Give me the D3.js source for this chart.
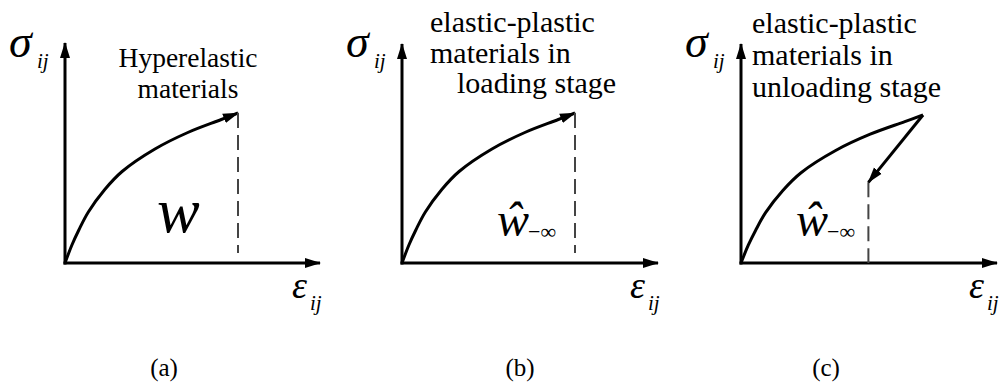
<!DOCTYPE html>
<html>
<head>
<meta charset="utf-8">
<script src="https://cdn.jsdelivr.net/npm/d3@7"></script>
</head>
<body style="margin:0">
<svg id="chart" width="1007" height="390"></svg>
<script>
// curve (normalised strain / stress)
var strain = [0, 0.04, 0.08, 0.135, 0.23, 0.33, 0.52, 0.71, 0.9, 1];
var stress = [0, 0.12, 0.22, 0.34, 0.49, 0.61, 0.76, 0.87, 0.955, 1];
// unloading branch of panel (c)
var unloadStrain = [1, 0.70];
var unloadStress = [1, 0.545];
var captions = ['(a)', '(b)', '(c)'];
var notes = [
  ['Hyperelastic', 'materials'],
  ['elastic-plastic', 'materials in', 'loading stage'],
  ['elastic-plastic', 'materials in', 'unloading stage']
];

var svg = d3.select('#chart');

// panel layout
var panels = [
  {ox: 65, oy: 263, ex: 238, ey: 113, xEnd: 320, yTop: 43, cap: 164,
   lines: [[188, 67, 'middle'], [188, 98, 'middle']], fs: 27.5, wx: 157},
  {ox: 402, oy: 263, ex: 575, ey: 113, xEnd: 658, yTop: 44, cap: 520,
   lines: [[430, 32, 'start'], [430, 63, 'start'], [457, 93, 'start']], fs: 30, wx: 497},
  {ox: 741, oy: 263, ex: 923, ey: 115, xEnd: 997, yTop: 44, cap: 826,
   lines: [[752, 33, 'start'], [752, 65, 'start'], [752, 97, 'start']], fs: 30, wx: 796}
];

// all texts, placed at the root
var labels = [];
panels.forEach(function (p, i) {
  labels.push({x: p.ox - 56, y: 57, t: 'σ', size: 46, it: true});
  labels.push({x: p.ox - 28, y: 68, t: 'ij', size: 21, it: true});
  labels.push({x: p.xEnd - 28, y: 298, t: 'ε', size: 38, it: true});
  labels.push({x: p.xEnd - 10, y: 310, t: 'ij', size: 21, it: true});
  if (i == 0) {
    labels.push({x: p.wx, y: 232, t: 'w', size: 64, it: true});
  } else {
    labels.push({x: p.wx, y: 236, t: 'ŵ', size: 48, it: true});
    labels.push({x: p.wx + 31, y: 239, t: '−∞', size: 22, it: false});
  }
  notes[i].forEach(function (t, k) {
    labels.push({x: p.lines[k][0], y: p.lines[k][1], t: t, size: p.fs, it: false, anchor: p.lines[k][2]});
  });
  labels.push({x: p.cap, y: 376, t: captions[i], size: 25, it: false, anchor: 'middle'});
});

svg.append('defs').append('marker')
  .attr('id', 'head')
  .attr('markerUnits', 'userSpaceOnUse')
  .attr('viewBox', '0 -6 16 12')
  .attr('markerWidth', 16).attr('markerHeight', 12)
  .attr('refX', 15).attr('refY', 0)
  .attr('orient', 'auto')
  .append('path').attr('d', 'M0,-5L16,0L0,5Z').attr('fill', '#000');

svg.selectAll('text').data(labels).enter().append('text')
  .attr('x', function (d) { return d.x; })
  .attr('y', function (d) { return d.y; })
  .attr('text-anchor', function (d) { return d.anchor || 'start'; })
  .style('font-family', function (d) { return 'Liberation Serif'; })
  .style('font-style', function (d) { return d.it ? 'italic' : 'normal'; })
  .style('font-size', function (d) { return d.size + 'px'; })
  .text(function (d) { return d.t; });

panels.forEach(function (p, i) {
  var x = d3.scaleLinear().domain([0, 1]).range([p.ox, p.ex]);
  var y = d3.scaleLinear().domain([0, 1]).range([p.oy, p.ey]);
  var pts = strain.map(function (s, k) { return [s, stress[k]]; });

  // axes
  svg.append('line')
    .attr('x1', p.ox).attr('y1', p.oy + 1.5).attr('x2', p.ox).attr('y2', p.yTop)
    .attr('stroke', '#000').attr('stroke-width', 3).attr('marker-end', 'url(#head)');
  svg.append('line')
    .attr('x1', p.ox - 1.5).attr('y1', p.oy).attr('x2', p.xEnd).attr('y2', p.oy)
    .attr('stroke', '#000').attr('stroke-width', 3).attr('marker-end', 'url(#head)');

  // loading curve
  var line = d3.line()
    .x(function (d) { return x(d[0]); })
    .y(function (d) { return y(d[1]); })
    .curve(d3.curveCatmullRom.alpha(0.5));
  svg.append('path')
    .attr('d', line(pts))
    .attr('fill', 'none').attr('stroke', '#000').attr('stroke-width', 3)
    .attr('marker-end', i < 2 ? 'url(#head)' : null);

  // dashed line
  var dx = i < 2 ? 1 : unloadStrain[1];
  var dTop = i < 2 ? 1 : unloadStress[1];
  svg.append('line')
    .attr('x1', x(dx)).attr('x2', x(dx))
    .attr('y1', y(dTop)).attr('y2', i < 2 ? p.oy - 10 : p.oy)
    .attr('stroke', '#444').attr('stroke-width', 2)
    .attr('stroke-dasharray', '15,7');

  if (i == 2) {
    svg.append('line')
      .attr('x1', x(unloadStrain[0])).attr('y1', y(unloadStress[0]))
      .attr('x2', x(unloadStrain[1])).attr('y2', y(unloadStress[1]))
      .attr('stroke', '#000').attr('stroke-width', 3)
      .attr('marker-end', 'url(#head)');
  }
});
</script>
</body>
</html>
